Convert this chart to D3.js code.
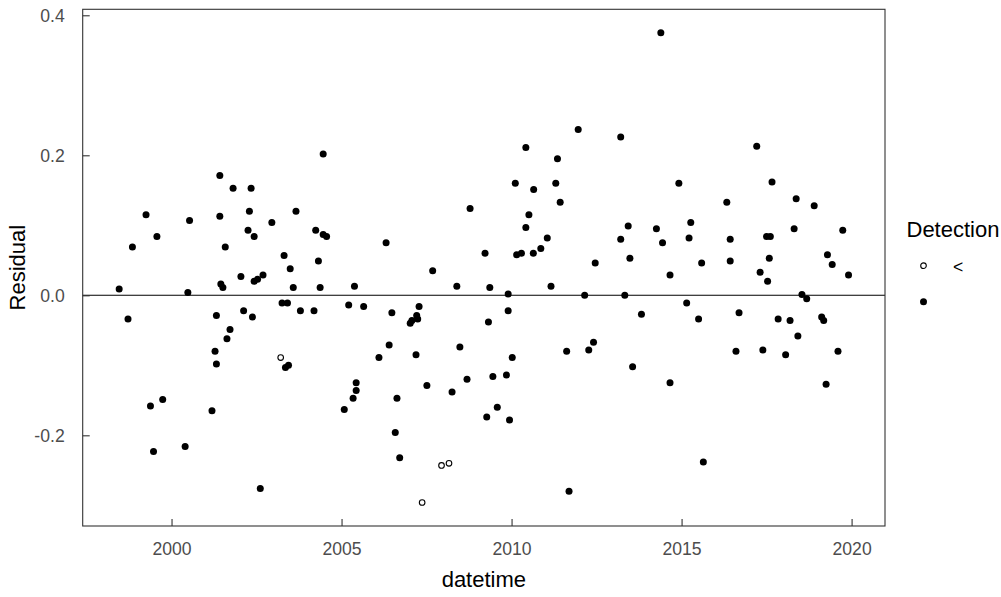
<!DOCTYPE html>
<html>
<head>
<meta charset="utf-8">
<script src="https://cdn.jsdelivr.net/npm/d3@7"></script>
<style>
  body { margin: 0; background: #fff; }
  svg text { font-family: "Liberation Sans", Arial, sans-serif; }
</style>
</head>
<body>
<div id="chart"></div>
<script>
// detected samples (filled dots): decimal year, residual
const detYear = [
  2004.46, 2001.42, 2001.81, 2002.34, 1999.25, 2000.53, 2001.42, 2002.29, 2003.66, 2002.95,
  1999.57, 2002.25, 2002.43, 2004.24, 2004.46, 2004.56, 1998.85, 2001.58, 2003.31, 2004.32,
  2003.49, 1998.46, 2000.48, 2001.45, 2001.51, 2002.04, 2002.43, 2002.53, 2002.69, 2003.58,
  2004.37, 1998.72, 2001.32, 2002.12, 2002.38, 2003.25, 2003.41, 2003.79, 2004.19, 2005.21,
  2001.72, 2001.63, 2001.28, 2001.32, 2003.35, 2003.44, 1999.38, 1999.74, 2001.19, 2005.08,
  2005.34, 1999.47, 2000.40, 2002.61, 2011.96, 2010.42, 2011.35, 2010.11, 2010.65, 2011.30,
  2011.43, 2008.78, 2010.51, 2010.42, 2011.05, 2006.31, 2010.86, 2009.22, 2010.15, 2010.29,
  2010.64, 2012.46, 2007.68, 2005.38, 2008.39, 2009.36, 2011.16, 2009.90, 2012.15, 2005.65,
  2006.48, 2007.28, 2007.21, 2007.07, 2007.24, 2007.02, 2009.90, 2009.32, 2006.40, 2006.10,
  2007.19, 2008.48, 2010.02, 2011.62, 2012.27, 2012.41, 2005.43, 2005.43, 2007.51, 2008.69,
  2009.45, 2009.85, 2008.25, 2006.63, 2009.58, 2009.27, 2009.94, 2006.58, 2006.71, 2011.69,
  2014.39, 2013.21, 2017.21, 2014.92, 2017.66, 2016.33, 2018.37, 2018.90, 2013.43, 2014.26,
  2015.27, 2018.31, 2019.74, 2013.21, 2014.44, 2015.22, 2016.43, 2017.50, 2017.61, 2013.48,
  2015.59, 2016.43, 2017.58, 2019.29, 2019.43, 2014.66, 2017.31, 2017.53, 2019.91, 2013.33,
  2015.15, 2018.54, 2018.68, 2013.82, 2015.50, 2016.69, 2017.84, 2018.19, 2019.12, 2019.18,
  2018.42, 2016.60, 2017.39, 2018.06, 2019.60, 2013.56, 2014.66, 2019.25, 2015.64
];
const detResid = [
  0.202, 0.171, 0.153, 0.153, 0.115, 0.107, 0.113, 0.120, 0.120, 0.104,
  0.084, 0.093, 0.084, 0.093, 0.087, 0.084, 0.069, 0.069, 0.057, 0.049,
  0.038, 0.009, 0.004, 0.016, 0.011, 0.027, 0.020, 0.023, 0.029, 0.011,
  0.011, -0.034, -0.029, -0.022, -0.031, -0.011, -0.011, -0.022, -0.022, -0.014,
  -0.049, -0.062, -0.080, -0.098, -0.103, -0.100, -0.158, -0.149, -0.165, -0.163,
  -0.147, -0.223, -0.216, -0.276, 0.237, 0.211, 0.195, 0.160, 0.151, 0.160,
  0.133, 0.124, 0.115, 0.097, 0.082, 0.075, 0.067, 0.060, 0.058, 0.060,
  0.060, 0.046, 0.035, 0.013, 0.013, 0.011, 0.013, 0.002, 0.000, -0.016,
  -0.025, -0.016, -0.029, -0.036, -0.034, -0.040, -0.022, -0.038, -0.071, -0.089,
  -0.085, -0.074, -0.089, -0.080, -0.078, -0.067, -0.125, -0.136, -0.129, -0.120,
  -0.116, -0.114, -0.138, -0.147, -0.160, -0.174, -0.178, -0.196, -0.232, -0.280,
  0.375, 0.226, 0.213, 0.160, 0.162, 0.133, 0.138, 0.128, 0.099, 0.095,
  0.104, 0.095, 0.093, 0.080, 0.075, 0.082, 0.080, 0.084, 0.084, 0.053,
  0.046, 0.049, 0.053, 0.058, 0.044, 0.029, 0.033, 0.020, 0.029, 0.000,
  -0.011, 0.001, -0.005, -0.027, -0.034, -0.025, -0.034, -0.036, -0.031, -0.036,
  -0.058, -0.080, -0.078, -0.085, -0.080, -0.102, -0.125, -0.127, -0.238
];

// censored samples ("<", open circles)
const lessYear = [2003.21, 2007.94, 2008.16, 2007.37];
const lessResid = [-0.089, -0.243, -0.240, -0.296];

const xTicks = [2000, 2005, 2010, 2015, 2020];
const yTicks = [-0.2, 0.0, 0.2, 0.4];
const yTickLabels = ["-0.2", "0.0", "0.2", "0.4"];
const legendLabels = ["<", ""];

const W = 1001, H = 597;
const panel = {left: 82.7, right: 885, top: 9.3, bottom: 526};

const allYear = detYear.concat(lessYear);
const allResid = detResid.concat(lessResid);

// ggplot style 5% expansion
function expand(ext) {
  const pad = (ext[1] - ext[0]) * 0.05;
  return [ext[0] - pad, ext[1] + pad];
}

const x = d3.scaleLinear()
  .domain(expand(d3.extent(allYear)))
  .range([panel.left, panel.right]);

const y = d3.scaleLinear()
  .domain(expand(d3.extent(allResid)))
  .range([panel.bottom, panel.top]);

const svg = d3.select("#chart").append("svg")
  .attr("width", W)
  .attr("height", H);

// zero reference line
svg.append("line")
  .attr("x1", panel.left).attr("x2", panel.right)
  .attr("y1", y(0)).attr("y2", y(0))
  .attr("stroke", "#000")
  .attr("stroke-width", 1.1);

// axes with inward ticks
const xAxis = d3.axisBottom(x)
  .tickValues(xTicks)
  .tickFormat(d3.format("d"))
  .tickSizeInner(-7)
  .tickSizeOuter(0)
  .tickPadding(17);

const yAxis = d3.axisLeft(y)
  .tickValues(yTicks)
  .tickFormat(function(d, i) { return yTickLabels[i]; })
  .tickSizeInner(-7)
  .tickSizeOuter(0)
  .tickPadding(18);

const gx = svg.append("g")
  .attr("transform", "translate(0," + panel.bottom + ")")
  .call(xAxis);
const gy = svg.append("g")
  .attr("transform", "translate(" + panel.left + ",0)")
  .call(yAxis);

[gx, gy].forEach(function(g) {
  g.select(".domain").remove();
  g.selectAll(".tick line").attr("stroke", "#333").attr("stroke-width", 1.1);
  g.selectAll(".tick text")
    .attr("fill", "#4d4d4d")
    .style("font-size", "17.6px");
});
gy.selectAll(".tick text").attr("dy", "0.34em");
gx.selectAll(".tick text").attr("dy", "0.71em");

// panel border
svg.append("rect")
  .attr("x", panel.left).attr("y", panel.top)
  .attr("width", panel.right - panel.left)
  .attr("height", panel.bottom - panel.top)
  .attr("fill", "none")
  .attr("stroke", "#333")
  .attr("stroke-width", 1.1);

// points
svg.append("g").selectAll("circle")
  .data(detYear.map(function(d, i) { return {x: d, y: detResid[i]}; }))
  .enter().append("circle")
    .attr("cx", function(d) { return x(d.x); })
    .attr("cy", function(d) { return y(d.y); })
    .attr("r", 3.5)
    .attr("fill", "#000");

svg.append("g").selectAll("circle")
  .data(lessYear.map(function(d, i) { return {x: d, y: lessResid[i]}; }))
  .enter().append("circle")
    .attr("cx", function(d) { return x(d.x); })
    .attr("cy", function(d) { return y(d.y); })
    .attr("r", 2.8)
    .attr("fill", "none")
    .attr("stroke", "#000")
    .attr("stroke-width", 1.1);

// axis titles
svg.append("text")
  .attr("x", (panel.left + panel.right) / 2)
  .attr("y", 586.5)
  .attr("text-anchor", "middle")
  .style("font-size", "22px")
  .text("datetime");

svg.append("text")
  .attr("transform", "translate(25," + ((panel.top + panel.bottom) / 2) + ") rotate(-90)")
  .attr("text-anchor", "middle")
  .style("font-size", "22px")
  .text("Residual");

// legend
const legend = svg.append("g").attr("transform", "translate(906.5,0)");
legend.append("text")
  .attr("x", 0).attr("y", 236.7)
  .style("font-size", "22px")
  .text("Detection");

const keys = legend.selectAll(".key")
  .data(legendLabels)
  .enter().append("g")
    .attr("transform", function(d, i) { return "translate(0," + (265.7 + i * 36) + ")"; });

keys.append("circle")
  .attr("cx", 17)
  .attr("cy", 0)
  .attr("r", function(d, i) { return i === 0 ? 2.8 : 3.5; })
  .attr("fill", function(d, i) { return i === 0 ? "none" : "#000"; })
  .attr("stroke", function(d, i) { return i === 0 ? "#000" : "none"; })
  .attr("stroke-width", 1.1);

keys.append("text")
  .attr("x", 46.5)
  .attr("y", 0)
  .attr("dy", "0.42em")
  .style("font-size", "17.6px")
  .text(function(d) { return d; });
</script>
</body>
</html>
